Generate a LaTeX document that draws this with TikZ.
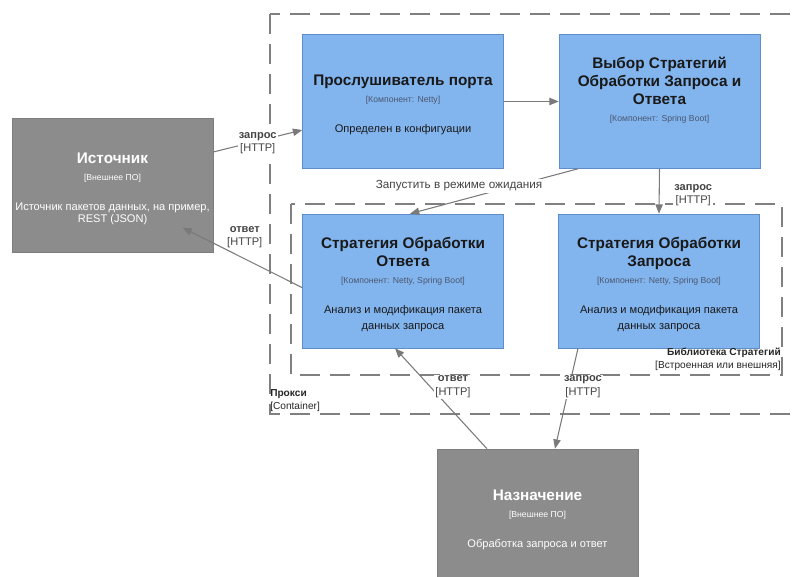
\documentclass[tikz,border=0pt]{standalone}
\usepackage{fontspec}
\setmainfont{Liberation Sans}
\usepackage{xcolor}
\usetikzlibrary{arrows.meta}

\definecolor{extgray}{HTML}{8C8C8C}
\definecolor{compblue}{HTML}{82B4EE}
\definecolor{compline}{HTML}{5D8DCB}
\definecolor{arrowgray}{HTML}{7A7A7A}
\definecolor{dashgray}{HTML}{808080}
\definecolor{labelgray}{HTML}{444444}
\definecolor{techblue}{HTML}{4A5870}

\newcommand{\ctitle}[1]{{\fontsize{11.5}{13.5}\selectfont\bfseries\rule{0pt}{13.5pt}#1\par}}
\newcommand{\ctech}[1]{{\fontsize{6.5}{12.75}\selectfont\color{techink}#1\par}}
\newcommand{\cdesc}[1]{{\vspace{10.5pt}\fontsize{8.3}{12}\selectfont #1\par}}
\newcommand{\lbl}[2]{{\bfseries #1}\\{}[#2]}

\tikzset{
  ext/.style={draw=extgray!90!black, fill=extgray, text=white,
    minimum width=150.75pt, minimum height=100.5pt, text width=150pt,
    align=flush center, inner sep=0pt,
    execute at begin node={\colorlet{techink}{white}}},
  comp/.style={draw=compline, fill=compblue, text=black!90,
    minimum width=150.75pt, minimum height=100.5pt, text width=148pt,
    align=flush center, inner sep=0pt,
    execute at begin node={\colorlet{techink}{techblue}}},
  bound/.style={draw=dashgray, line width=0.8pt, dash pattern=on 15pt off 7.5pt},
  conn/.style={draw=arrowgray, line width=0.8pt, -{Triangle[length=7pt,width=5.5pt]}},
  lab/.style={fill=white, inner sep=1pt, align=center, text=labelgray,
    font=\fontsize{8.3}{9.9}\selectfont},
  blab/.style={inner sep=0pt, text=black!85, font=\fontsize{7.6}{9.75}\selectfont}
}

\begin{document}
\begin{tikzpicture}[x=0.75pt,y=-0.75pt]
\useasboundingbox (0,0) rectangle (794,577);
\clip (0,0) rectangle (794,577);
% boundaries
\draw[bound] (270,14) rectangle (820,414);
\draw[bound] (291,204) rectangle (782,375);
% boxes
\draw (112.5,185) node[ext](src) {\ctitle{Источник}\ctech{[Внешнее ПО]}%
  \cdesc{Источник пакетов данных, на пример,\\[-3pt]REST (JSON)}};
\draw (403,101.5) node[comp](port) {\ctitle{Прослушиватель порта}\ctech{[Компонент: Netty]}%
  \cdesc{Определен в конфигуации}};
\draw (659.5,101.5) node[comp](sel) {\ctitle{Выбор Стратегий\\Обработки Запроса и\\Ответа}%
  \ctech{[Компонент: Spring Boot]}\cdesc{\mbox{}}};
\draw (403,281) node[comp](resp) {\ctitle{Стратегия Обработки\\Ответа}%
  \ctech{[Компонент: Netty, Spring Boot]}\cdesc{Анализ и модификация пакета\\данных запроса}};
\draw (659,281) node[comp](req) {\ctitle{Стратегия Обработки\\Запроса}%
  \ctech{[Компонент: Netty, Spring Boot]}\cdesc{Анализ и модификация пакета\\данных запроса}};
\draw (537.5,516) node[ext](dest) {\ctitle{Назначение}\ctech{[Внешнее ПО]}%
  \cdesc{Обработка запроса и ответ}};
% boundary labels
\draw (270,389.5) node[blab, anchor=north west, align=left](proxylbl) {\lbl{Прокси}{Container}};
\draw (781,348) node[blab, anchor=north east, align=right](liblbl) {\lbl{Библиотека Стратегий}{Встроенная или внешняя}};
% connectors
\draw[conn] ([yshift=24.75pt]src.east) -- node[lab, yshift=-1.5pt]{\lbl{запрос}{HTTP}} ([yshift=-21.4pt]port.west);
\draw[conn] (port.east) -- (sel.west);
\draw[conn] ([xshift=-61.1pt]sel.south) -- node[lab, pos=0.708, yshift=11pt, font=\fontsize{8.8}{10}\selectfont]
  {Запустить в режиме ожидания} ([xshift=5.25pt]resp.north);
\draw[conn] (sel.south) -- node[lab, xshift=25.5pt, yshift=-3pt]{\lbl{запрос}{HTTP}} (req.north);
\draw[conn] ([yshift=-5pt]resp.west) -- node[lab, pos=0.48, yshift=16.5pt]{\lbl{ответ}{HTTP}}
  ([shift={(52.5pt,-32pt)}]src.center);
\draw[conn] ([xshift=-37.9pt]dest.north) -- node[lab, pos=0.657, xshift=19.8pt, yshift=-3pt]{\lbl{ответ}{HTTP}}
  ([xshift=-6pt]resp.south);
\draw[conn] ([xshift=-60.75pt]req.south) -- node[lab, pos=0.356, xshift=9.9pt, yshift=-2pt]{\lbl{запрос}{HTTP}}
  ([xshift=13.1pt]dest.north);
\end{tikzpicture}
\end{document}
